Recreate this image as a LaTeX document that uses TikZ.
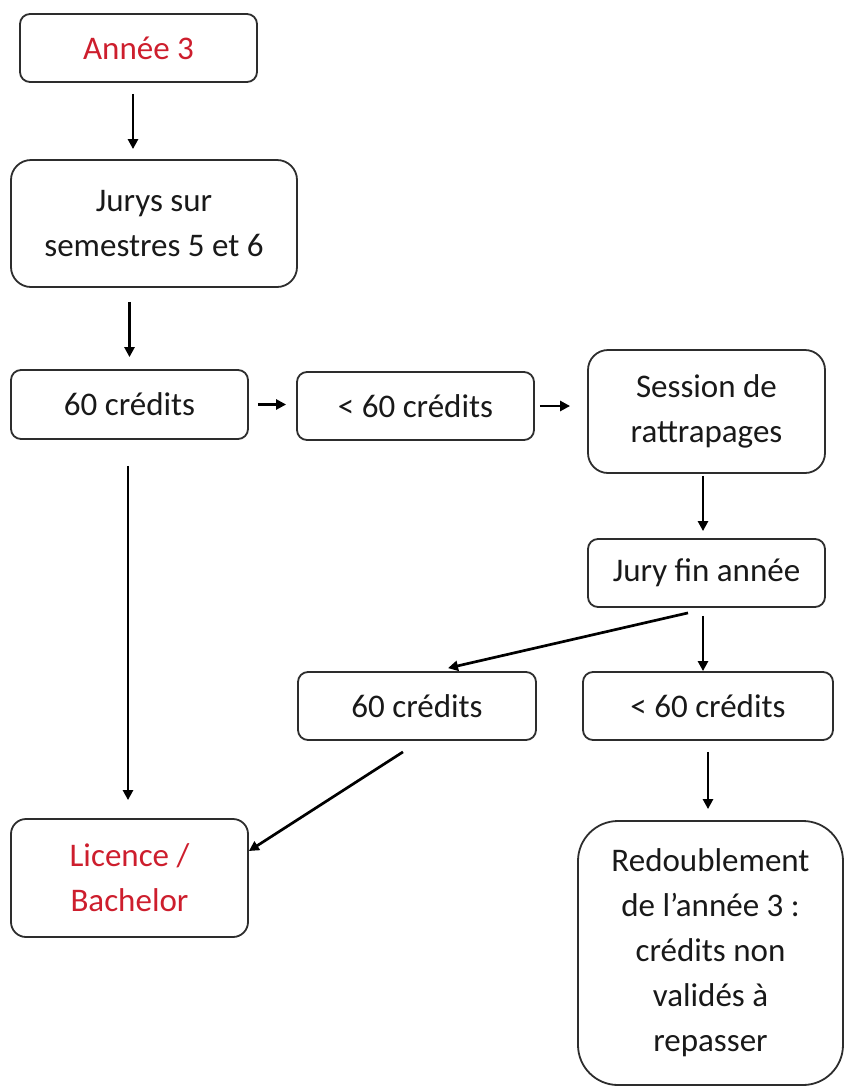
\documentclass[tikz,border=0pt]{standalone}
\usepackage{fontspec}
\setmainfont{Carlito}
\usetikzlibrary{arrows.meta}
\definecolor{titlered}{RGB}{205,30,45}
\definecolor{boxline}{RGB}{45,45,45}
\tikzset{
  box/.style={draw=boxline, line width=1.8pt, rounded corners=10pt, align=center,
    inner sep=0pt, font=\fontsize{33}{45}\selectfont, text=black!90},
  bigbox/.style={box, rounded corners=20pt},
  redtext/.style={text=titlered},
  arr/.style={line width=2.7pt, draw=black, -{Triangle[length=10pt,width=10pt]}},
}
\begin{document}
\begin{tikzpicture}[x=1pt,y=-1pt]
\useasboundingbox (0,0) rectangle (846,1088);
\node[box, redtext, minimum width=237pt, minimum height=68pt] (a3) at (138.5,48) {Année 3};
\node[bigbox, minimum width=286pt, minimum height=127pt] (jurys) at (154,223.5) {Jurys sur\\semestres 5 et 6};
\node[box, minimum width=237pt, minimum height=69pt] (c60a) at (129.5,404.5) {60 crédits};
\node[box, minimum width=237pt, minimum height=68pt] (lt60a) at (415.5,406) {< 60 crédits};
\node[bigbox, minimum width=237pt, minimum height=123pt] (sess) at (706.5,411.5) {Session de\\rattrapages};
\node[box, minimum width=237pt, minimum height=68pt] (jfin) at (706.5,573) {Jury fin année};
\node[box, minimum width=238pt, minimum height=68pt] (c60b) at (417,706) {60 crédits};
\node[box, minimum width=250pt, minimum height=68pt] (lt60b) at (708,706) {< 60 crédits};
\node[box, redtext, rounded corners=15pt, minimum width=237pt, minimum height=118pt] (lic) at (129.5,878) {Licence /\\Bachelor};
\node[box, rounded corners=40pt, minimum width=265pt, minimum height=264pt] (redo) at (710.5,953) {Redoublement\\de l’année 3 :\\crédits non\\validés à\\repasser};

\draw[arr, shorten <=11pt, shorten >=10pt] ([xshift=-5.5pt]a3.south) -- ([xshift=-5.5pt]a3.south |- jurys.north);
\draw[arr, shorten <=14pt, shorten >=12pt] (c60a.north |- jurys.south) -- (c60a.north);
\draw[arr, shorten <=9pt, shorten >=10pt] (c60a.east) -- (c60a.east -| lt60a.west);
\draw[arr, shorten <=5pt, shorten >=17pt] (lt60a.east) -- (lt60a.east -| sess.west);
\draw[arr, shorten <=2pt, shorten >=7pt] ([xshift=-3.5pt]sess.south) -- ([xshift=-3.5pt]sess.south |- jfin.north);
\draw[arr] ([xshift=-18.5pt,yshift=-5pt]jfin.south) -- ([xshift=31pt,yshift=3pt]c60b.north);
\draw[arr, shorten <=8pt] ([xshift=-3.5pt]jfin.south) -- ([xshift=-3.5pt]jfin.south |- lt60b.north);
\draw[arr, shorten <=11pt, shorten >=11pt] (lt60b.south) -- (lt60b.south |- redo.north);
\draw[arr, shorten <=26pt, shorten >=18pt] ([xshift=-1.5pt]c60a.south) -- ([xshift=-1.5pt]c60a.south |- lic.north);
\draw[arr] ([xshift=-14pt,yshift=-11pt]c60b.south) -- ([yshift=27pt]lic.east);
\end{tikzpicture}
\end{document}
